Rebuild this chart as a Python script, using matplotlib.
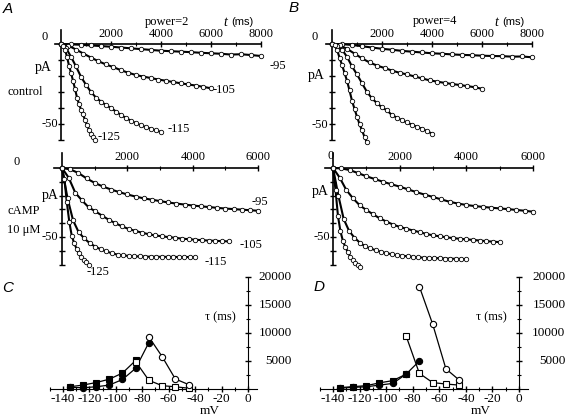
import numpy as np
import matplotlib.pyplot as plt
from matplotlib.ticker import MultipleLocator

plt.rcParams['font.family'] = 'Liberation Serif'
plt.rcParams['font.size'] = 9
plt.rcParams['axes.unicode_minus'] = False

W, H = 566, 419

# Current traces (pA), sampled evenly from 0 to t_end (ms)
# A, control, power=2  (-95, -105, -115, -125 mV)
a_ctrl_tend = [8000, 6000, 4000, 1360]
a_ctrl_95 = [0, -0.2, -0.5, -0.9, -1.3, -1.7, -2.2, -2.7, -3.2, -3.7, -4.2, -4.5, -4.8, -5.1,
             -5.5, -5.8, -6.1, -6.6, -6.4, -6.9, -7.5]
a_ctrl_105 = [0, -1, -3.5, -6, -8.5, -10.8, -12.8, -14.5, -16.4, -18, -19.4, -20.4, -21.3,
              -22.2, -23, -23.8, -24.6, -25.3, -26, -26.8, -27.7]
a_ctrl_115 = [0, -2.5, -8, -14, -20.5, -25.5, -30, -33.5, -36, -38.2, -40, -42.2, -44.4, -46.2,
              -48, -49.5, -50.8, -52, -53, -54, -55]
a_ctrl_125 = [0, -1, -3.5, -8, -13.5, -18, -23, -28, -33.5, -37.5, -41, -44, -47.5, -50.5,
              -53.5, -56, -58, -60]

# B, control, power=4
b_ctrl_tend = [8000, 6000, 4000, 1400]
b_ctrl_95 = [0, -0.1, -0.6, -1.4, -2.2, -3, -3.6, -4.3, -4.8, -5.3, -5.8, -6.1, -6.5, -6.8,
             -7, -7.3, -7.5, -7.6, -7.9, -7.8, -8.3]
b_ctrl_105 = [0, -0.8, -3, -6, -9, -11.5, -13.5, -15, -16.6, -18, -19, -20.3, -21.5, -22.7,
              -23.5, -24.3, -25, -25.6, -26.3, -27, -28]
b_ctrl_115 = [0, -1, -3.5, -8, -14, -19, -24.5, -30, -34, -37, -39.6, -41.5, -44.5, -46,
              -47.8, -49, -50.5, -51.8, -53, -54.5, -56]
b_ctrl_125 = [0, -0.8, -3.5, -8.5, -13, -18, -23, -29, -35.5, -40.5, -45.5, -50, -54, -58, -61.5]

# A, cAMP 10 uM, power=2
a_camp_tend = [6000, 5100, 4080, 820]
a_camp_95 = [0, -1, -3.6, -7.5, -10.8, -13.4, -15.6, -17.5, -19.2, -20.7, -22, -23, -24, -25,
             -25.8, -26.5, -27.2, -27.8, -28.3, -28.9, -29.4, -29.8, -30.2, -30.6, -31]
a_camp_105 = [0, -7, -18, -23.5, -28.5, -31.4, -34.5, -37.5, -40, -42.3, -44.2, -45.6, -46.9,
              -48, -48.9, -49.5, -50.1, -50.6, -51.2, -51.6, -52, -52.3, -52.6, -52.8, -53, -53.2]
a_camp_115 = [0, -22, -38, -46.5, -51, -54.5, -57, -59, -60.5, -61.8, -62.8, -63.3, -63.7, -64,
              -64.1, -64.2, -64.3, -64.3, -64.4, -64.4, -64.4, -64.5, -64.5, -64.5, -64.5]
a_camp_125 = [0, -8, -25, -39, -49, -54.5, -58.5, -61.5, -64.3, -66.5, -68.3, -70]

# B, cAMP 10 uM, power=4
b_camp_tend = [6000, 5000, 4000, 820]
b_camp_95 = [0, -0.3, -1.5, -3.7, -6, -8, -10, -11.8, -13.5, -15.5, -17.5, -19.3, -21, -22.8,
             -24.5, -25.8, -26.8, -27.6, -28.2, -28.8, -29.3, -29.8, -30.4, -31, -31.7]
b_camp_105 = [0, -7, -16, -22, -27, -30.5, -33.5, -36.5, -38.8, -41, -42.7, -44, -45.3, -46.5,
              -47.8, -48.8, -49.5, -50.2, -50.8, -51.3, -51.7, -52.1, -52.6, -53, -53.4, -53.7]
b_camp_115 = [0, -20, -37, -45.5, -50.5, -54, -56.8, -58.3, -59.6, -60.8, -61.7, -62.5, -63.2,
              -63.6, -64, -64.4, -64.7, -65, -65.2, -65.3, -65.4, -65.6, -65.7, -65.8, -65.9, -66]
b_camp_125 = [0, -16, -35, -46, -53, -57.5, -61, -64.5, -66.5, -68.5, -70, -71.5]

# C and D: time constants tau (ms) vs membrane potential (mV)
c_v_ocirc = [-75, -65, -55, -45]
c_ocirc = [9300, 5800, 1800, 800]
c_v_fcirc = [-135, -125, -115, -105, -95, -85, -75]
c_fcirc = [300, 230, 400, 700, 1700, 3700, 8300]
c_v_fsq = [-135, -125, -115, -105, -95, -85]
c_fsq = [400, 700, 1150, 1750, 2850, 5100]
c_v_osq = [-85, -75, -65, -55, -45]
c_osq = [4900, 1550, 600, 400, 150]

d_v_ocirc = [-75, -65, -55, -45]
d_ocirc = [18300, 11600, 3600, 1600]
d_v_fcirc = [-135, -125, -115, -105, -95, -85, -75]
d_fcirc = [150, 300, 400, 700, 1000, 2650, 5000]
d_v_fsq = [-135, -125, -115, -105, -95, -85]
d_fsq = [250, 420, 600, 1100, 1500, 2650]
d_v_osq = [-85, -75, -65, -55, -45]
d_osq = [9500, 2800, 1150, 890, 700]


def box(l, r, t, b):
    return [l / W, 1 - b / H, (r - l) / W, (b - t) / H]


def ftext(x, y, s, **kw):
    kw.setdefault('va', 'center')
    fig.text(x / W, 1 - y / H, s, **kw)


def traces(ax, tends, curves, xmax, ybot, ytop, pad):
    for tend, vals in zip(tends, curves):
        t = np.linspace(0, tend, len(vals))
        ax.plot(t, vals, color='k', lw=1.5, clip_on=False, zorder=3)
        ax.plot(t, vals, 'o', ms=3.2, mfc='white', mec='k', mew=0.6, clip_on=False, zorder=4)
    ax.set_xlim(-250, xmax)
    ax.set_ylim(ybot, ytop)
    ax.patch.set_visible(False)
    for s in ['right', 'bottom']:
        ax.spines[s].set_visible(False)
    ax.spines['left'].set_position(('data', 0))
    ax.spines['top'].set_position(('data', 0))
    for s in ['left', 'top']:
        ax.spines[s].set_linewidth(1.2)
    ax.xaxis.tick_top()
    ax.set_xticks(np.arange(2000, xmax + 1, 2000))
    ax.xaxis.set_minor_locator(MultipleLocator(1000))
    ax.set_yticks(np.arange(ybot, 0.1, 10))
    ax.set_yticklabels([])
    ax.tick_params(axis='both', which='major', direction='inout', length=4.5, width=1, pad=pad)
    ax.tick_params(axis='both', which='minor', direction='inout', length=3.5, width=0.8)


def taus(ax, data, lab_x):
    for v, y, m, fc in data:
        ax.plot(v, y, '-', color='k', lw=0.9, marker=m, ms=4.5, mfc=fc, mec='k',
                mew=0.8, clip_on=False, zorder=3)
    ax.set_xlim(-150, 7)
    ax.set_ylim(-300, 20000)
    ax.patch.set_visible(False)
    for s in ['left', 'top']:
        ax.spines[s].set_visible(False)
    ax.spines['right'].set_position(('data', 0))
    ax.spines['bottom'].set_position(('data', 0))
    ax.yaxis.tick_right()
    ax.set_yticks([5000, 10000, 15000, 20000])
    ax.set_yticklabels([])
    ax.yaxis.set_minor_locator(MultipleLocator(2500))
    ax.set_xticks(np.arange(-140, 1, 20))
    ax.xaxis.set_minor_locator(MultipleLocator(10))
    ax.tick_params(axis='x', labelsize=9.5, pad=0.5)
    ax.tick_params(axis='both', which='major', direction='inout', length=4.5, width=1)
    ax.tick_params(axis='both', which='minor', direction='inout', length=3.5, width=0.8)
    for yv in [5000, 10000, 15000, 20000]:
        ax.text(lab_x, yv, str(yv), ha='right', va='center', fontsize=9.5, clip_on=False)


fig = plt.figure(figsize=(W / 100, H / 100), dpi=100)

axA = fig.add_axes(box(54.75, 261, 29.6, 140))
traces(axA, a_ctrl_tend, [a_ctrl_95, a_ctrl_105, a_ctrl_115, a_ctrl_125], 8000, -60, 9, 0.5)
axB = fig.add_axes(box(325.75, 532, 29.6, 140))
traces(axB, b_ctrl_tend, [b_ctrl_95, b_ctrl_105, b_ctrl_115, b_ctrl_125], 8000, -60, 9, 0.5)
axA2 = fig.add_axes(box(53.8, 258.2, 152.8, 264.6))
traces(axA2, a_camp_tend, [a_camp_95, a_camp_105, a_camp_115, a_camp_125], 6000, -70, 11, 1.5)
axB2 = fig.add_axes(box(324.7, 533, 152.8, 264.6))
traces(axB2, b_camp_tend, [b_camp_95, b_camp_105, b_camp_115, b_camp_125], 6000, -70, 11, 1.5)

axC = fig.add_axes(box(49.8, 257.2, 277, 390.7))
taus(axC, [(c_v_fsq, c_fsq, 's', 'k'), (c_v_fcirc, c_fcirc, 'o', 'k'),
           (c_v_osq, c_osq, 's', 'white'), (c_v_ocirc, c_ocirc, 'o', 'white')], 33)
axD = fig.add_axes(box(319.7, 528.3, 277, 390.7))
taus(axD, [(d_v_fsq, d_fsq, 's', 'k'), (d_v_fcirc, d_fcirc, 'o', 'k'),
           (d_v_osq, d_osq, 's', 'white'), (d_v_ocirc, d_ocirc, 'o', 'white')], 35)

# panel letters
for x, y, s in [(3, 9, 'A'), (289, 8, 'B'), (2, 288, 'C'), (314, 287, 'D')]:
    ftext(x, y, s, family='Liberation Sans', style='italic', fontsize=11)

# annotations, top row
ftext(145, 22, 'power=2')
ftext(413, 21, 'power=4')
for x in [223, 494]:
    ftext(x, 22, 't', style='italic', fontsize=10)
    ftext(x + 8, 22, '(ms)', family='Liberation Sans', fontsize=8)
ftext(42, 37, '0')
ftext(312, 37, '0')
ftext(35, 68, 'pA', fontsize=10)
ftext(308, 76, 'pA', fontsize=10)
ftext(58, 124, '-50', ha='right')
ftext(328, 125, '-50', ha='right')
ftext(8, 92, 'control')
ftext(270, 66, '-95')
ftext(213, 90, '-105')
ftext(168, 129, '-115')
ftext(98, 137, '-125')

# bottom traces
ftext(14, 162, '0')
ftext(328, 156, '0')
ftext(42, 195, 'pA', fontsize=10)
ftext(312, 192, 'pA', fontsize=10)
ftext(58, 237, '-50', ha='right')
ftext(330, 237, '-50', ha='right')
ftext(7, 211, 'cAMP')
ftext(7, 230, '10 \u03bcM')
ftext(252, 202, '-95')
ftext(240, 245, '-105')
ftext(205, 262, '-115')
ftext(87, 272, '-125')

# C and D axis labels
for dx in [0, 271]:
    ftext(205 + dx, 317, '\u03c4 (ms)')
    ftext(210 + dx, 411, 'mV', ha='center', fontsize=9.5)

fig.savefig('out.png', dpi=100)
